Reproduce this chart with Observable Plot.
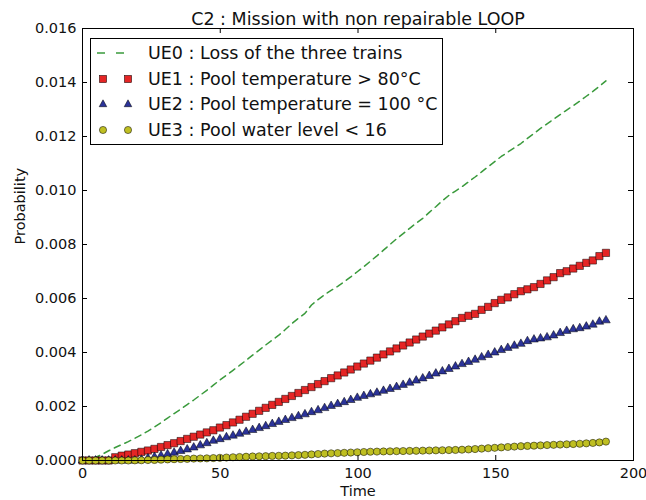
<!DOCTYPE html>
<html>
<head>
<meta charset="utf-8">
<script src="https://cdn.jsdelivr.net/npm/d3@7"></script>
<script src="https://cdn.jsdelivr.net/npm/@observablehq/plot@0.6"></script>
<style>
  html, body { margin: 0; padding: 0; background: #fff; }
  #wrap { position: relative; width: 646px; height: 500px; font-family: "DejaVu Sans", sans-serif; }
  #legend { position: absolute; left: 90px; top: 38px; width: 351px; height: 105px; border: 1px solid #000; background: #fff; }
  .row { position: absolute; left: 0; height: 26px; }
  .row svg { position: absolute; left: 0; top: 0; }
  .row span { position: absolute; left: 57px; font-size: 17.5px; color: #111; white-space: nowrap; line-height: 26px; top: 0; }
</style>
</head>
<body>
<div id="wrap">
  <div id="chart"></div>
  <div id="legend"></div>
</div>
<script>
const chartTitle = "C2 : Mission with non repairable LOOP";
const xLabel = "Time";
const yLabel = "Probability";
const seriesLabels = [
  "UE0 : Loss of the three trains",
  "UE1 : Pool temperature > 80°C",
  "UE2 : Pool temperature = 100 °C",
  "UE3 : Pool water level < 16"
];
const xTicks = [0, 50, 100, 150, 200];
const yTicks = [0, 0.002, 0.004, 0.006, 0.008, 0.010, 0.012, 0.014, 0.016];
const yTickLabels = ["0.000", "0.002", "0.004", "0.006", "0.008", "0.010", "0.012", "0.014", "0.016"];

const time = [0, 2.375, 4.75, 7.125, 9.5, 11.875, 14.25, 16.625, 19, 21.375,
  23.75, 26.125, 28.5, 30.875, 33.25, 35.625, 38, 40.375, 42.75, 45.125,
  47.5, 49.875, 52.25, 54.625, 57, 59.375, 61.75, 64.125, 66.5, 68.875,
  71.25, 73.625, 76, 78.375, 80.75, 83.125, 85.5, 87.875, 90.25, 92.625,
  95, 97.375, 99.75, 102.125, 104.5, 106.875, 109.25, 111.625, 114, 116.375,
  118.75, 121.125, 123.5, 125.875, 128.25, 130.625, 133, 135.375, 137.75, 140.125,
  142.5, 144.875, 147.25, 149.625, 152, 154.375, 156.75, 159.125, 161.5, 163.875,
  166.25, 168.625, 171, 173.375, 175.75, 178.125, 180.5, 182.875, 185.25, 187.625, 190];

const ue0 = [0, 0.00003, 0.00011, 0.00023, 0.00036, 0.00048, 0.00059, 0.0007, 0.00082, 0.00095,
  0.00109, 0.00124, 0.0014, 0.00157, 0.00174, 0.0019, 0.00207, 0.00224, 0.00242, 0.0026,
  0.00279, 0.00298, 0.00316, 0.00334, 0.00352, 0.00371, 0.0039, 0.00409, 0.00428, 0.00446,
  0.00464, 0.00485, 0.00507, 0.00527, 0.00545, 0.00576, 0.00596, 0.00614, 0.0063, 0.00645,
  0.00662, 0.0068, 0.00699, 0.00718, 0.00738, 0.00758, 0.00779, 0.008, 0.00821, 0.0084,
  0.0086, 0.00879, 0.00897, 0.00919, 0.0094, 0.00962, 0.00982, 0.00998, 0.01014, 0.01032,
  0.0105, 0.01069, 0.01088, 0.01107, 0.01126, 0.01142, 0.01158, 0.01174, 0.01193, 0.01211,
  0.0123, 0.01247, 0.01264, 0.01281, 0.01298, 0.01314, 0.01331, 0.01349, 0.01367, 0.01386, 0.01406];

const ue1 = [0, 0, 0, 0, 0, 0.00012, 0.00018, 0.00022, 0.00027, 0.00032,
  0.00037, 0.00043, 0.0005, 0.00057, 0.00064, 0.00072, 0.0008, 0.00088, 0.00096, 0.00104,
  0.00112, 0.00122, 0.00131, 0.00141, 0.00151, 0.00162, 0.00173, 0.00184, 0.00195, 0.00206,
  0.00217, 0.00228, 0.00239, 0.0025, 0.00261, 0.00272, 0.00283, 0.00294, 0.00305, 0.00315,
  0.00326, 0.00337, 0.00348, 0.00359, 0.0037, 0.00381, 0.00393, 0.00404, 0.00415, 0.00426,
  0.00437, 0.00448, 0.00459, 0.0047, 0.00481, 0.00493, 0.00504, 0.00516, 0.00528, 0.00536,
  0.00543, 0.00558, 0.00569, 0.00583, 0.00595, 0.00604, 0.00616, 0.00627, 0.00634, 0.00642,
  0.00654, 0.00667, 0.00679, 0.00694, 0.00701, 0.00711, 0.00721, 0.00732, 0.00741, 0.00757, 0.00769];

const ue2 = [0, 0, 0, 0, 0, 0, 0, 0, 0, 0.00003,
  0.00008, 0.00013, 0.00018, 0.00023, 0.00029, 0.00035, 0.00041, 0.00048, 0.00056, 0.00064,
  0.00073, 0.00079, 0.00086, 0.00092, 0.00099, 0.00106, 0.00113, 0.0012, 0.00127, 0.00135,
  0.00143, 0.0015, 0.00157, 0.00164, 0.00171, 0.00179, 0.00186, 0.00194, 0.00202, 0.00209,
  0.00216, 0.00224, 0.00232, 0.00239, 0.00245, 0.00251, 0.00258, 0.00265, 0.00272, 0.0028,
  0.00288, 0.00296, 0.00304, 0.00313, 0.00322, 0.0033, 0.00339, 0.00348, 0.00357, 0.00365,
  0.00373, 0.00382, 0.00391, 0.004, 0.00409, 0.00417, 0.00425, 0.00432, 0.00442, 0.00448,
  0.00452, 0.00456, 0.00463, 0.00472, 0.0048, 0.00486, 0.0049, 0.00496, 0.00503, 0.00514, 0.00519];

const ue3 = [0, 0, 0, 0, 0, 0, 0, 0, 0.000005, 0.00001,
  0.000015, 0.00002, 0.00003, 0.00004, 0.00005, 0.000055, 0.00006, 0.00007, 0.000075, 0.00008,
  0.00009, 0.0001, 0.00011, 0.00012, 0.00013, 0.00014, 0.00015, 0.000155, 0.00016, 0.00017,
  0.000175, 0.00018, 0.00019, 0.0002, 0.00021, 0.000225, 0.00024, 0.000255, 0.000265, 0.000275,
  0.000285, 0.000295, 0.000305, 0.000315, 0.000325, 0.00033, 0.000335, 0.00034, 0.000345, 0.00035,
  0.000355, 0.00036, 0.000365, 0.00037, 0.000375, 0.00038, 0.000385, 0.00039, 0.0004, 0.00041,
  0.000425, 0.00044, 0.000455, 0.00047, 0.000485, 0.0005, 0.000515, 0.00053, 0.00054, 0.00055,
  0.00056, 0.00057, 0.00058, 0.00059, 0.0006, 0.00061, 0.00062, 0.000635, 0.00065, 0.00067, 0.0007];

const colors = ["#3a9a3c", "#e52525", "#2b3399", "#bfbf22"];

const rows = time.map((t, i) => ({t, ue0: ue0[i], ue1: ue1[i], ue2: ue2[i], ue3: ue3[i]}));

const W = 646, H = 500, mL = 82, mR = 13, mT = 28, mB = 40;
const innerW = W - mL - mR, innerH = H - mT - mB, tick = 5;

const chart = Plot.plot({
  width: W, height: H,
  marginLeft: mL, marginRight: mR, marginTop: mT, marginBottom: mB,
  style: {fontFamily: "DejaVu Sans, sans-serif", fontSize: "14.5px", color: "#111", background: "#fff", overflow: "visible"},
  x: {domain: [0, 200]},
  y: {domain: [0, 0.016]},
  marks: [
    Plot.line(rows, {x: "t", y: "ue0", stroke: colors[0], strokeWidth: 1.5, strokeDasharray: "6.5,5"}),
    Plot.dot(rows, {x: "t", y: "ue1", symbol: "square", r: 4.1, fill: colors[1], stroke: "#000", strokeWidth: 0.5}),
    Plot.dot(rows, {x: "t", y: "ue2", symbol: "triangle", r: 3.2, fill: colors[2], stroke: "#000", strokeWidth: 0.5}),
    Plot.dot(rows, {x: "t", y: "ue3", symbol: "circle", r: 3.6, fill: colors[3], stroke: "#000", strokeWidth: 0.5}),
    Plot.ruleX(xTicks, {insetTop: innerH - tick, stroke: "#000"}),
    Plot.ruleX(xTicks, {insetBottom: innerH - tick, stroke: "#000"}),
    Plot.ruleY(yTicks, {insetRight: innerW - tick, stroke: "#000"}),
    Plot.ruleY(yTicks, {insetLeft: innerW - tick, stroke: "#000"}),
    Plot.frame({stroke: "#000", strokeWidth: 1}),
    Plot.axisX(xTicks, {tickSize: 0, tickPadding: 7, label: null, fontSize: 14.5}),
    Plot.axisY(yTicks, {tickSize: 0, tickPadding: 6, label: null, fontSize: 14.5,
      tickFormat: (d) => yTickLabels[yTicks.indexOf(d)]}),
    Plot.text([chartTitle], {frameAnchor: "top", dy: -16, fontSize: 17.5, fill: "#111"}),
    Plot.text([xLabel], {frameAnchor: "bottom", dy: 35, fontSize: 14.5, fill: "#111"}),
    Plot.text([yLabel], {frameAnchor: "left", dx: -62, rotate: -90, fontSize: 14.5, fill: "#111"})
  ]
});
document.getElementById("chart").appendChild(chart);

// legend
const legend = document.getElementById("legend");
const rowTops = [0, 25.5, 51, 77];
seriesLabels.forEach((lab, i) => {
  const row = document.createElement("div");
  row.className = "row";
  row.style.top = (rowTops[i] + 1) + "px";
  row.style.width = "350px";
  let sym = "";
  if (i === 0) {
    sym = `<line x1="6" x2="40" y1="13" y2="13" stroke="${colors[0]}" stroke-width="1.5" stroke-dasharray="8,11"/>`;
  } else {
    const xs = [12, 37];
    xs.forEach(x => {
      if (i === 1) sym += `<rect x="${x - 3.6}" y="${13 - 3.6}" width="7.2" height="7.2" fill="${colors[1]}" stroke="#000" stroke-width="0.5"/>`;
      if (i === 2) sym += `<path d="M${x},${13 - 4.2} L${x + 3.8},${13 + 2.7} L${x - 3.8},${13 + 2.7} Z" fill="${colors[2]}" stroke="#000" stroke-width="0.5"/>`;
      if (i === 3) sym += `<circle cx="${x}" cy="13" r="3.6" fill="${colors[3]}" stroke="#000" stroke-width="0.5"/>`;
    });
  }
  row.innerHTML = `<svg width="50" height="26">${sym}</svg><span>${lab.replace(/</g, "&lt;").replace(/>/g, "&gt;")}</span>`;
  legend.appendChild(row);
});
</script>
</body>
</html>
